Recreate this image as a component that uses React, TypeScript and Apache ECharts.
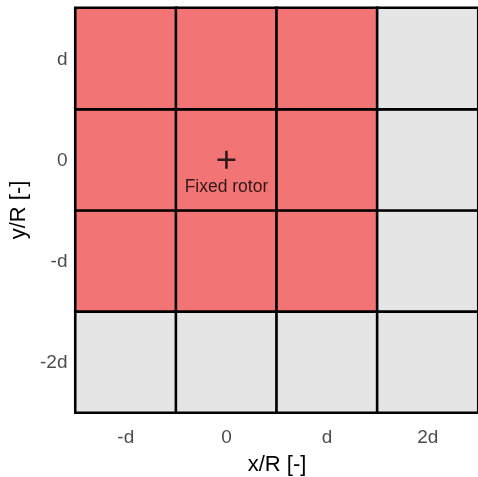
import React, { useEffect, useRef } from "react";
import * as echarts from "echarts";

const xCategories = ["-d", "0", "d", "2d"];
const yCategories = ["-2d", "-d", "0", "d"];
// 1 = inside rotor region (red), 0 = outside (grey); rows from bottom (-2d) to top (d)
const cellValues = [
  [0, 0, 0, 0],
  [1, 1, 1, 0],
  [1, 1, 1, 0],
  [1, 1, 1, 0],
];
const rotorPoint = ["0", "0"];
const rotorLabel = "Fixed rotor";

export default function App() {
  const ref = useRef<HTMLDivElement>(null);
  useEffect(() => {
    const chart = echarts.init(ref.current!, null, { renderer: "svg" });
    const data: number[][] = [];
    cellValues.forEach((row, yi) => row.forEach((v, xi) => data.push([xi, yi, v])));
    const font = "Liberation Sans, Arial, sans-serif";
    chart.setOption({
      animation: false,
      grid: { left: 75.5, top: 8, width: 405, height: 404.5, containLabel: false },
      xAxis: {
        type: "category",
        data: xCategories,
        axisLine: { show: false },
        axisTick: { show: false },
        splitLine: { show: false },
        axisLabel: { color: "#4d4d4d", fontSize: 19, margin: 14, fontFamily: font },
      },
      yAxis: {
        type: "category",
        data: yCategories,
        axisLine: { show: false },
        axisTick: { show: false },
        splitLine: { show: false },
        axisLabel: { color: "#4d4d4d", fontSize: 19, margin: 8, fontFamily: font },
      },
      visualMap: {
        show: false,
        type: "piecewise",
        seriesIndex: 0,
        dimension: 2,
        pieces: [
          { value: 0, color: "#e5e5e5" },
          { value: 1, color: "#f37474" },
        ],
      },
      series: [
        {
          type: "heatmap",
          data,
          itemStyle: { borderColor: "#000", borderWidth: 2.6 },
          emphasis: { disabled: true },
        },
        {
          type: "scatter",
          data: [rotorPoint],
          symbol: "path://M7.7,0H10.3V18H7.7Z M0,7.7H18V10.3H0Z",
          symbolSize: 18,
          itemStyle: { color: "#000" },
          label: {
            show: true,
            position: "bottom",
            distance: 8,
            formatter: rotorLabel,
            color: "#000",
            fontSize: 17.5,
            fontFamily: font,
          },
          z: 5,
        },
      ],
      graphic: [
        {
          type: "text",
          x: 277,
          y: 463,
          style: {
            text: "x/R [-]",
            fontSize: 22,
            fontFamily: font,
            fill: "#000",
            align: "center",
            verticalAlign: "middle",
          },
        },
        {
          type: "text",
          x: 17,
          y: 210,
          rotation: Math.PI / 2,
          style: {
            text: "y/R [-]",
            fontSize: 22,
            fontFamily: font,
            fill: "#000",
            align: "center",
            verticalAlign: "middle",
          },
        },
      ],
    });
    return () => chart.dispose();
  }, []);
  return (
    <div
      ref={ref}
      style={{ position: "fixed", left: 0, top: 0, width: 478, height: 477 }}
    />
  );
}
